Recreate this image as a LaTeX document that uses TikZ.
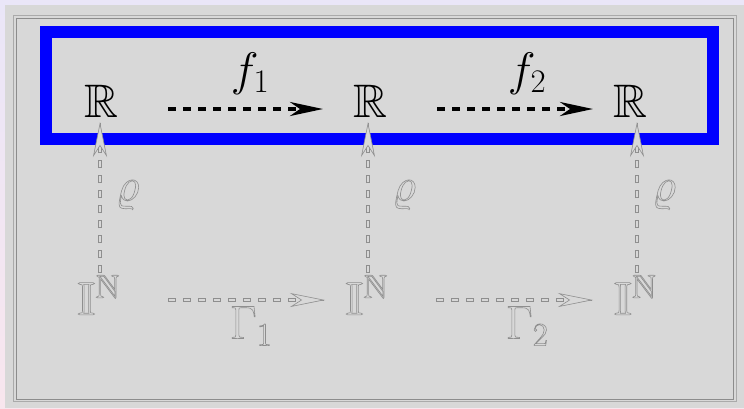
\RequirePackage{fix-cm}
\documentclass[tikz,border=0pt]{standalone}
\usepackage{amssymb}
\usetikzlibrary{arrows.meta,calc}
\definecolor{bgray}{RGB}{216,216,216}
\definecolor{fgray}{RGB}{142,142,142}
\definecolor{lav}{RGB}{234,230,248}
\definecolor{pnk}{RGB}{248,230,238}
\newcommand{\outl}[1]{\special{pdf:literal direct 0.6 w 1 Tr}#1\special{pdf:literal direct 0 Tr}}
\tikzset{
  rr/.style={inner sep=0pt, outer sep=0pt, text=black},
  gg/.style={inner sep=0pt, outer sep=0pt, text=fgray},
  farr/.style={black, line width=3.5pt, dash pattern=on 8pt off 7pt,
     -{Stealth[length=33pt,width=14pt,inset=10pt]}},
  gout/.style={fgray, line width=3.4pt, dash pattern=on 8pt off 7pt, shorten >=24pt},
  gin/.style={bgray, line width=2.2pt, dash pattern=on 6.8pt off 8.2pt, dash phase=14.4pt, shorten >=24pt},
  gtip/.style={fgray, line width=0.6pt, -{Stealth[length=35pt,width=14pt,inset=11pt,fill=bgray]}},
}
\begin{document}
\begin{tikzpicture}[x=1pt,y=-1pt,font=\fontsize{47}{52}\selectfont]
\useasboundingbox (0,0) rectangle (744,408);
\shade[top color=lav, bottom color=pnk] (0,0) rectangle (744,408);
\fill[bgray] (5,5) rectangle (744,408);
\draw[fgray!75, line width=0.8pt] (13.5,15) rectangle (736,401.5);
\draw[gray!90, line width=0.8pt] (16,18) rectangle (733.5,399);
\draw[blue, line width=12pt] (46,32) rectangle (713,139);
% top row
\node[rr] (R1) at (101,101) {$\mathbb{R}$};
\node[rr] (R2) at (370,101) {$\mathbb{R}$};
\node[rr] (R3) at (630,101) {$\mathbb{R}$};
% bottom row
\node[gg] (I1) at (98.5,295) {\outl{$\mathbb{I}^{\mathbb{N}}$}};
\node[gg] (I2) at (366.5,295) {\outl{$\mathbb{I}^{\mathbb{N}}$}};
\node[gg] (I3) at (635,295) {\outl{$\mathbb{I}^{\mathbb{N}}$}};
% top arrows
\draw[farr] ($(R1.center)+(67,8)$) -- ($(R2.center)+(-47,8)$);
\draw[farr] ($(R2.center)+(67,8)$) -- ($(R3.center)+(-37,8)$);
\node[rr] (f1) at (250,74) {$f_1$};
\node[rr] (f2) at (527,74) {$f_2$};
% connector end points
\coordinate (h1a) at ($(I1.center)+(69.5,5)$);
\coordinate (h1b) at ($(I2.center)+(-41.5,5)$);
\coordinate (h2a) at ($(I2.center)+(69.5,5)$);
\coordinate (h2b) at ($(I3.center)+(-42,5)$);
\coordinate (v1a) at ($(I1.center)+(1.5,-22)$);
\coordinate (v1b) at ($(R1.center)+(-1,21)$);
\coordinate (v2a) at ($(I2.center)+(1.5,-22)$);
\coordinate (v2b) at ($(R2.center)+(-2,21)$);
\coordinate (v3a) at ($(I3.center)+(2,-22)$);
\coordinate (v3b) at ($(R3.center)+(7,21)$);
% bottom and vertical arrows
\foreach \a/\b in {h1a/h1b,h2a/h2b,v1a/v1b,v2a/v2b,v3a/v3b}{
  \draw[gout] (\a) -- (\b);
  \draw[gin] (\a) -- (\b);
  \draw[gtip] ($(\b)!1pt!(\a)$) -- (\b);
}
\node[gg] (g1) at (251,326) {\outl{$\Gamma_1$}};
\node[gg] (g2) at (527,326) {\outl{$\Gamma_2$}};
\node[gg] (p1) at (127.5,195) {\outl{$\varrho$}};
\node[gg] (p2) at (404,195) {\outl{$\varrho$}};
\node[gg] (p3) at (664,195) {\outl{$\varrho$}};
\end{tikzpicture}
\end{document}
